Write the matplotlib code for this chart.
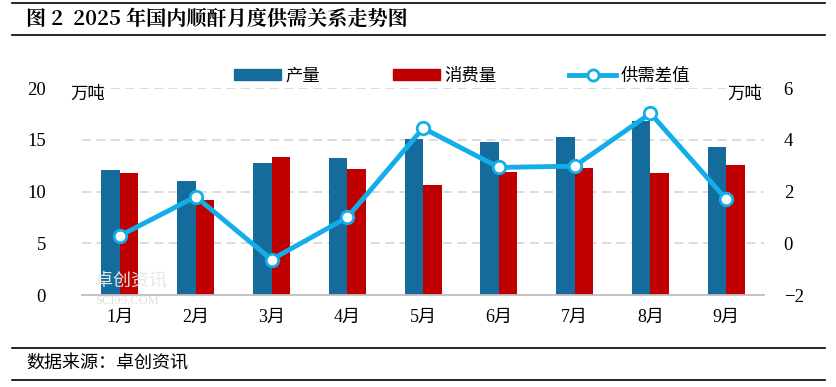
import matplotlib
matplotlib.use("Agg")
import matplotlib.pyplot as plt
from matplotlib.lines import Line2D
from matplotlib.patches import Patch
import numpy as np

plt.rcParams['font.family'] = ['Liberation Serif', 'Noto Sans CJK SC', 'DejaVu Sans']

months = ["1月", "2月", "3月", "4月", "5月", "6月", "7月", "8月", "9月"]
production = [12.05, 11.0, 12.73, 13.2, 15.05, 14.75, 15.24, 16.8, 14.27]
consumption = [11.76, 9.16, 13.3, 12.15, 10.6, 11.86, 12.25, 11.76, 12.54]
balance = [0.29, 1.8, -0.63, 1.0, 4.45, 2.93, 2.98, 5.02, 1.7]
left_ticks = [0, 5, 10, 15, 20]
right_ticks = [-2, 0, 2, 4, 6]

BLUE = "#156C9C"
RED = "#C00000"
CYAN = "#12AEE8"

fig = plt.figure(figsize=(8.37, 3.87), dpi=100)
ax = fig.add_axes([0.098, 0.2377, 0.815, 0.5349])
ax2 = ax.twinx()

x = np.arange(len(months))
w = 0.245
ax.bar(x - w / 2, production, width=w, color=BLUE, zorder=2)
ax.bar(x + w / 2, consumption, width=w, color=RED, zorder=2)
ax.set_xlim(-0.5, len(months) - 0.5)
ax.set_ylim(0, 20)
ax.set_yticks(left_ticks)
ax.yaxis.grid(True, color="#D9D9D9", linestyle=(0, (5, 3)), linewidth=1.3, zorder=0)
ax.set_axisbelow(True)
ax.set_xticks(x)
ax.set_xticklabels(months, fontsize=13)
ax.tick_params(axis='x', length=0, pad=10)
ax.tick_params(axis='y', length=0, labelsize=13.5, pad=26)
for s in ["top", "right", "left"]:
    ax.spines[s].set_visible(False)
ax.spines["bottom"].set_color("#BFBFBF")
ax.spines["bottom"].set_linewidth(1.3)

ax2.plot(x, balance, color=CYAN, linewidth=3.5, marker="o", markersize=9,
         markerfacecolor="white", markeredgecolor=CYAN, markeredgewidth=2, zorder=3)
ax2.set_ylim(-2, 6)
ax2.set_yticks(right_ticks)
ax2.set_yticklabels(["\u22122", "0", "2", "4", "6"])
ax2.tick_params(axis='y', length=0, labelsize=13.5, pad=14)
for s in ["top", "right", "left", "bottom"]:
    ax2.spines[s].set_visible(False)

fig.text(70 / 837, 1 - 94 / 387, "万吨", fontsize=12.5, va="center", ha="left",
         family=["Noto Sans CJK SC"])
fig.text(762 / 837, 1 - 94 / 387, "万吨", fontsize=12.5, va="center", ha="right",
         family=["Noto Sans CJK SC"])

handles = [Patch(color=BLUE), Patch(color=RED),
           Line2D([0], [0], color=CYAN, linewidth=3.5, marker="o", markersize=8,
                  markerfacecolor="white", markeredgecolor=CYAN, markeredgewidth=2)]
fig.legend(handles, ["产量", "消费量", "供需差值"], loc="center",
           bbox_to_anchor=(462 / 837, 1 - 76 / 387), ncol=3, frameon=False,
           prop={"family": "Noto Sans CJK SC", "size": 12.5},
           handlelength=2.7, handleheight=0.6, columnspacing=4.2, handletextpad=0.25)

# watermark
fig.text(95 / 837, 1 - 281 / 387, "卓创资讯", fontsize=13, color="#E6E6E6",
         family=["Noto Sans CJK SC"], ha="left", va="center", zorder=0)
fig.text(95 / 837, 1 - 301 / 387, "SCI99.COM", fontsize=9, color="#E0E0E0",
         ha="left", va="center", zorder=0)

# title and rules
fig.add_artist(Line2D([12 / 837, 1 - 12 / 837], [1 - 3 / 387, 1 - 3 / 387], color="black", lw=1.2))
fig.add_artist(Line2D([12 / 837, 1 - 12 / 837], [1 - 35 / 387, 1 - 35 / 387], color="black", lw=1.2))
fig.text(26 / 837, 1 - 19 / 387, "图 2  2025 年国内顺酐月度供需关系走势图", fontsize=14.5,
         fontweight="bold", ha="left", va="center",
         family=["Noto Serif CJK SC", "Noto Sans CJK SC", "DejaVu Sans"])
fig.add_artist(Line2D([12 / 837, 1 - 12 / 837], [1 - 348 / 387, 1 - 348 / 387], color="black", lw=1.2))
fig.add_artist(Line2D([12 / 837, 1 - 12 / 837], [1 - 380 / 387, 1 - 380 / 387], color="black", lw=1.2))
fig.text(26 / 837, 1 - 364 / 387, "数据来源：卓创资讯", fontsize=13, ha="left", va="center",
         family=["Noto Sans CJK SC"])

fig.savefig("out.png", dpi=100, facecolor="white")
